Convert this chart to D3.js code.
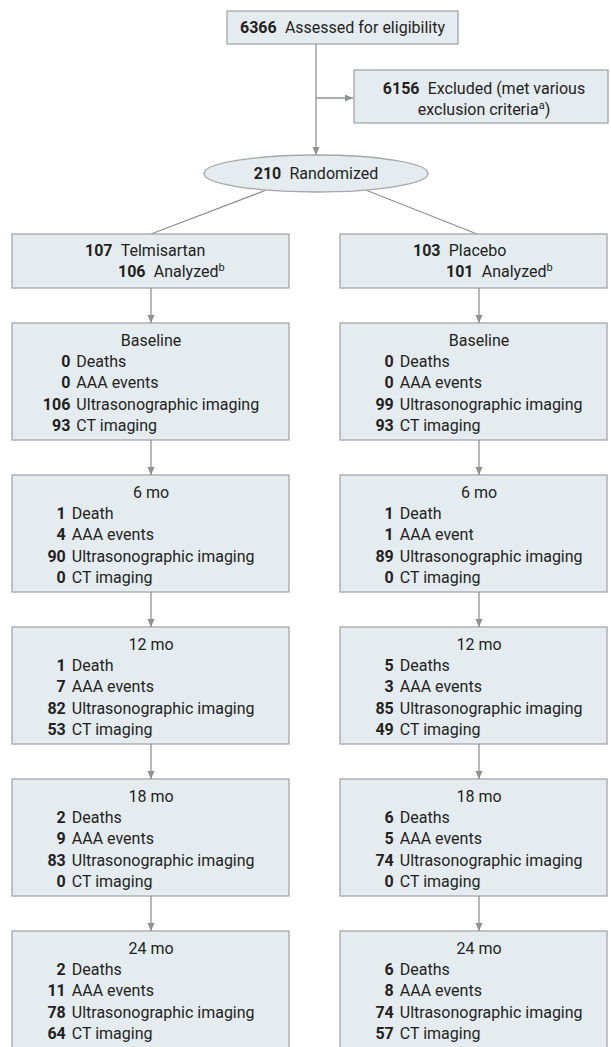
<!DOCTYPE html>
<html>
<head>
<meta charset="utf-8">
<script src="https://cdn.jsdelivr.net/npm/d3@7"></script>
<style>
  body { margin: 0; background: #fff; }
  svg text { font-family: Roboto, "Liberation Sans", sans-serif; font-size: 16px; fill: #231f20; }
</style>
</head>
<body>
<div id="chart"></div>
<script>
// flow numbers
var assessed = 6366;
var excluded = 6156;
var randomized = 210;
var arms = ["Telmisartan", "Placebo"];
var armRandomized = [107, 103];
var armAnalyzed = [106, 101];
var timepoints = ["Baseline", "6 mo", "12 mo", "18 mo", "24 mo"];
var rowLabels = ["Deaths", "AAA events", "Ultrasonographic imaging", "CT imaging"];
var rowSingular = ["Death", "AAA event", "Ultrasonographic imaging", "CT imaging"];
// per arm, per timepoint
var deaths = [[0, 1, 1, 2, 2], [0, 1, 5, 6, 6]];
var aaaEvents = [[0, 4, 7, 9, 11], [0, 1, 3, 5, 8]];
var ultrasound = [[106, 90, 82, 83, 78], [99, 89, 85, 74, 74]];
var ctImaging = [[93, 0, 53, 0, 64], [93, 0, 49, 0, 57]];

var W = 611, H = 1047;
var fill = "#e4ecf0", stroke = "#a3a5a8", lineCol = "#8f9194";

var svg = d3.select("#chart").append("svg")
  .attr("width", W).attr("height", H);

svg.append("defs").append("marker")
  .attr("id", "arr").attr("viewBox", "0 0 10 10")
  .attr("refX", 10).attr("refY", 5)
  .attr("markerWidth", 8).attr("markerHeight", 8)
  .attr("markerUnits", "userSpaceOnUse")
  .attr("orient", "auto")
  .append("path").attr("d", "M0,0.5L10,5L0,9.5Z").attr("fill", lineCol);

// layout scales
var colCenter = d3.scaleOrdinal().domain(arms).range([151, 479]);
var colLeft = d3.scaleOrdinal().domain(arms).range([12, 340]);
var colRight = d3.scaleOrdinal().domain(arms).range([289, 607]);
var yBox = d3.scalePoint().domain(timepoints).range([323, 323 + 4 * 152]);
var boxH = 117;

function line(x1, y1, x2, y2, arrow) {
  var l = svg.append("line")
    .attr("x1", x1).attr("y1", y1).attr("x2", x2).attr("y2", y2)
    .attr("stroke", lineCol).attr("stroke-width", 1.3);
  if (arrow) l.attr("marker-end", "url(#arr)");
}
function box(x, y, w, h) {
  svg.append("rect").attr("x", x).attr("y", y).attr("width", w).attr("height", h)
    .attr("fill", fill).attr("stroke", stroke).attr("stroke-width", 1.3);
}
// text with bold number then label, optional superscript
function numText(g, x, y, n, label, sup, anchor) {
  var t = g.append("text").attr("x", x).attr("y", y).attr("text-anchor", anchor || "start");
  t.append("tspan").attr("font-weight", "bold").text(n);
  t.append("tspan").text("\u2002" + label);
  if (sup) t.append("tspan").attr("font-size", "11px").attr("dy", -6).text(sup);
  return t;
}

// top: assessed
box(227, 11, 231, 33);
numText(svg, 342.5, 33, assessed, "Assessed for eligibility", null, "middle");
line(316, 44, 316, 155, true);
line(316, 98, 353, 98, true);

// excluded
box(354, 70, 254, 53);
numText(svg, 484, 94, excluded, "Excluded (met various", null, "middle");
svg.append("text").attr("x", 484).attr("y", 115).attr("text-anchor", "middle")
  .text("exclusion criteria")
  .append("tspan").attr("font-size", "11px").attr("dy", -6).text("a")
  .select(function() { return this.parentNode; })
  .append("tspan").attr("dy", 6).text(")");

// randomized
svg.append("ellipse").attr("cx", 316).attr("cy", 173.5).attr("rx", 112).attr("ry", 18.5)
  .attr("fill", fill).attr("stroke", stroke).attr("stroke-width", 1.3);
numText(svg, 316, 179, randomized, "Randomized", null, "middle");
line(265, 190.5, colCenter(arms[0]), 234, false);
line(367, 190.5, 477, 234, false);

arms.forEach(function(arm, a) {
  var cx = colCenter(arm), x0 = colLeft(arm), x1 = colRight(arm);
  // arm box
  box(x0, 234, x1 - x0, 54);
  numText(svg, cx - 66, 256, armRandomized[a], arm);
  numText(svg, cx - 33, 277, armAnalyzed[a], "Analyzed", "b");
  line(cx, 288, cx, yBox(timepoints[0]), true);

  var series = [deaths[a], aaaEvents[a], ultrasound[a], ctImaging[a]];
  timepoints.forEach(function(tp, i) {
    var top = yBox(tp);
    box(x0, top, x1 - x0, boxH);
    if (i > 0) line(cx, yBox(timepoints[i - 1]) + boxH, cx, top, true);
    svg.append("text").attr("x", cx).attr("y", top + 23).attr("text-anchor", "middle").text(tp);

    var g = svg.append("g");
    var rows = series.map(function(s, r) {
      return { n: s[i], label: s[i] === 1 ? rowSingular[r] : rowLabels[r] };
    });
    var nums = g.selectAll("text.n").data(rows).join("text")
      .attr("class", "n").attr("font-weight", "bold").attr("text-anchor", "end")
      .attr("y", function(d, r) { return top + 44 + r * 21.3; })
      .text(function(d) { return d.n; });
    var labs = g.selectAll("text.l").data(rows).join("text")
      .attr("class", "l")
      .attr("y", function(d, r) { return top + 44 + r * 21.3; })
      .text(function(d) { return d.label; });
    var numW = d3.max(nums.nodes(), function(n) { return n.getComputedTextLength(); });
    var labW = d3.max(labs.nodes(), function(n) { return n.getComputedTextLength(); });
    var gap = 6;
    var start = cx - (numW + gap + labW) / 2;
    nums.attr("x", start + numW);
    labs.attr("x", start + numW + gap);
  });
});
</script>
</body>
</html>
